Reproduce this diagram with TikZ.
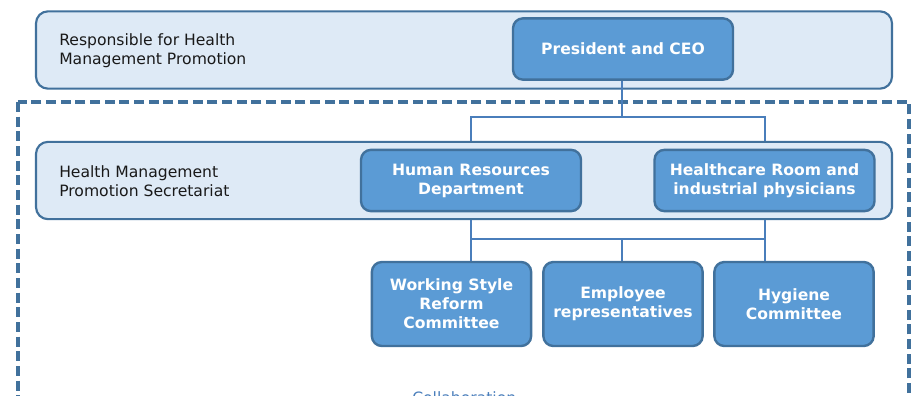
\documentclass[tikz,border=0pt]{standalone}
\usepackage{fontspec}
\setmainfont{DejaVu Sans}
\definecolor{bandblue}{HTML}{DEEAF6}
\definecolor{boxblue}{HTML}{5B9BD5}
\definecolor{edgeblue}{HTML}{41719C}
\definecolor{lineblue}{HTML}{4A7EBB}
\newcommand{\chartfont}{\fontsize{11.7pt}{14.3pt}\selectfont}

\begin{document}
\begin{tikzpicture}[x=0.75pt, y=0.75pt,
  band/.style={draw=edgeblue, fill=bandblue, rounded corners=9pt, line width=1.6pt, minimum width=642pt, minimum height=58pt, inner sep=0pt},
  box/.style={draw=edgeblue, fill=boxblue, rounded corners=7.5pt, line width=1.8pt, minimum width=165pt, minimum height=46pt, inner sep=0pt, align=center, text=white, font={\chartfont\bfseries}},
  cbox/.style={box, minimum width=119.5pt, minimum height=63pt},
  note/.style={anchor=west, align=left, inner sep=0pt, text=black!90, font=\chartfont},
  link/.style={draw=lineblue, line width=1.5pt}]

\useasboundingbox (0,0) rectangle (914,-396);
\clip (0,0) rectangle (914,-396);

% outer dashed frame (runs off the bottom)
\draw[edgeblue, line width=2.3pt, dash pattern=on 7.5pt off 3.5pt] (18,-102) rectangle (909,-440);

\node[band] at (464,-50) (top) {};
\node[note] at (59,-51) (toplabel) {Responsible for Health\\Management Promotion};
\node[box] at (623,-49) (ceo) {President and CEO};

\node[band] at (464,-180.5) (sec) {};
\node[note] at (59,-181) (seclabel) {Health Management\\Promotion Secretariat};
\node[box] at (471,-180.5) (hr) {Human Resources\\Department};
\node[box] at (764.5,-180.5) (hc) {Healthcare Room and\\industrial physicians};

\node[cbox] at (451.5,-304) (wsr) {Working Style\\Reform\\Committee};
\node[cbox] at (623,-304) (emp) {Employee\\representatives};
\node[cbox] at (794,-304) (hyg) {Hygiene\\Committee};

\node[anchor=base west, inner sep=0pt, text=lineblue, font=\chartfont] at (412,-403) (collab) {Collaboration};

\coordinate (split) at (622,-117);
\coordinate (merge) at (622,-239);

\draw[link] (ceo.south -| split) -- (split);
\draw[link] (hr.north |- sec.north) |- (split) -| (hc.north |- sec.north);
\draw[link] (hr.south |- sec.south) -- (hr.south |- wsr.north);
\draw[link] (hc.south |- sec.south) -- (hc.south |- hyg.north);
\draw[link] (hr.south |- merge) -- (hc.south |- merge);
\draw[link] (merge) -- (emp.north -| merge);
\end{tikzpicture}
\end{document}
